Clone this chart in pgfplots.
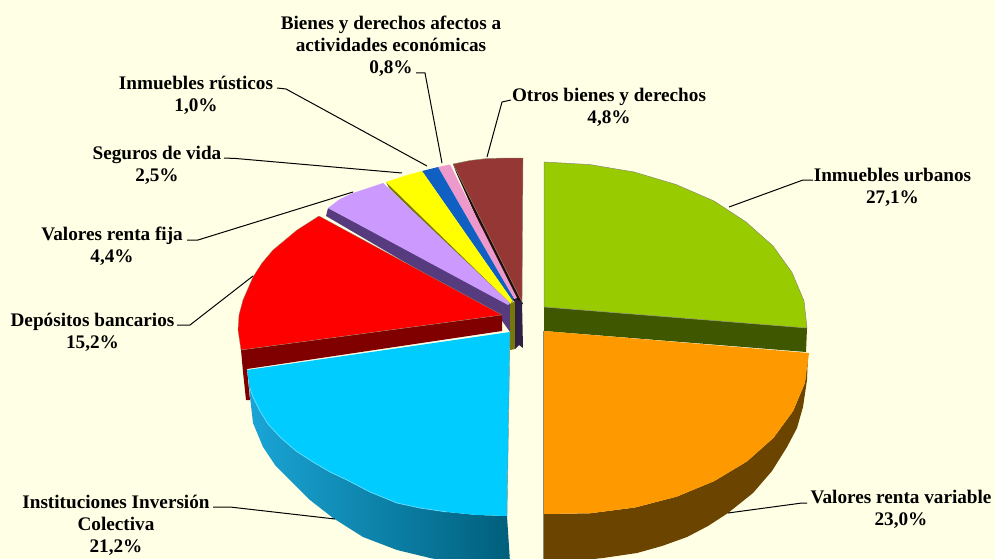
\documentclass[border=0pt]{standalone}
\usepackage{pgfplots}
\pgfplotsset{compat=1.18}
\usepackage{fontspec}
\setmainfont{Liberation Serif}
\definecolor{fondo}{HTML}{FFFFE6}
\definecolor{verde}{HTML}{99CC00}
\definecolor{verdeosc}{HTML}{3F5800}
\definecolor{naranja}{HTML}{FF9900}
\definecolor{naranjaosc}{HTML}{6B4500}
\definecolor{celeste}{HTML}{00CCFF}
\definecolor{celesteA}{HTML}{1AA5D6}
\definecolor{celesteB}{HTML}{005F7C}
\definecolor{rojo}{HTML}{FF0000}
\definecolor{rojoosc}{HTML}{800000}
\definecolor{lila}{HTML}{CC99FF}
\definecolor{lilaosc}{HTML}{563C7E}
\definecolor{amarillo}{HTML}{FFFF00}
\definecolor{oliva}{HTML}{77770A}
\definecolor{azul}{HTML}{1060C4}
\definecolor{rosa}{HTML}{EE99CC}
\definecolor{marron}{HTML}{953735}
\definecolor{borde}{HTML}{8A8A70}
\tikzset{etiq/.style={font=\fontsize{19.2}{22}\selectfont\bfseries,align=center,inner sep=0pt,text=black},
  guia/.style={black,line width=1pt,no markers}}
\begin{document}
\begin{tikzpicture}
\begin{axis}[
    scale only axis,
    width=995pt,
    height=559pt,
    xmin=0,xmax=995,
    ymin=0,ymax=559,
    y dir=reverse,
    hide axis,
    clip=true,
  ]
% fondo
\addplot[draw=none,fill=fondo] coordinates {(0,0) (995,0) (995,559) (0,559)} \closedcycle;

% cuñas pequeñas de arriba
\addplot[draw=none,fill=black!75!marron] coordinates {(453,164) (456,172) (515,304) (523,304) (519,296)} -- cycle;
\addplot[draw=borde,line width=0.4pt,fill=marron] coordinates {(453,164) (470,160.5) (487,158.5) (505,158) (523,158) (522,302) (519,296)} -- cycle;
\addplot[draw=none,fill=rosa] coordinates {(438,167) (450,164.5) (517,298) (514,299)} -- cycle;
\addplot[draw=none,fill=azul] coordinates {(422,171) (438,167) (514,299) (512,300)} -- cycle;
\addplot[draw=none,fill=oliva] coordinates {(386,182) (389,188) (509,306) (513,301)} -- cycle;
\addplot[draw=none,fill=amarillo] coordinates {(386,182) (404,176) (422,171) (512,300) (511,304)} -- cycle;
\addplot[draw=none,fill=lilaosc] coordinates {(328,208) (326,216) (500,318) (510,332) (510,304)} -- cycle;
\addplot[draw=none,fill=lila] coordinates {(328,208) (340,199) (353,193) (368,188) (383,183) (510,303) (508,305)} -- cycle;
% lados del centro
\addplot[draw=none,fill=oliva] coordinates {(510,304) (515,301) (515,349) (510,350)} -- cycle;
\addplot[draw=none,fill=black!45!lilaosc] coordinates {(515,299) (522,302) (523,348) (519,345) (515,349)} -- cycle;

% Depósitos bancarios
\addplot[draw=none,fill=rojoosc] coordinates {(241,350) (243,372) (246,400) (250,400) (247,369) (502,331) (502,315)} -- cycle;
\addplot[draw=borde,line width=0.3pt,fill=rojo] coordinates {(241,350) (238,330) (239,315) (243,300) (253,277) (262,263) (273,250) (285,240) (297,230) (319,216) (502,315)} -- cycle;

% Instituciones Inversión Colectiva
\addplot[draw=none,left color=celesteA,right color=celesteB] coordinates {(249,384) (250,397) (253,423) (263,447) (275,465) (290,480) (310,500) (333,518) (363,537) (397,550) (430,558) (445,561) (510,562) (507,516) (477,515) (447,512) (397,503) (347,480) (313,462) (280,437)} -- cycle;
\addplot[draw=none,fill=celeste] coordinates {(510,332) (247,370) (249,384) (253,397) (260,411) (268,424) (280,437) (296,451) (313,462) (330,472) (347,480) (370,492) (397,503) (420,508) (447,512) (477,515) (507,516)} -- cycle;
\addplot[no markers,color=celeste!60!white,line width=0.7pt] coordinates {(250,388) (253,397) (260,411) (268,424) (280,437) (296,451) (313,462) (330,472) (347,480) (370,492) (397,503) (420,508) (447,512)};
\addplot[no markers,color=borde,line width=0.4pt] coordinates {(510,332) (507,516)};

% Inmuebles urbanos
\addplot[draw=none,fill=verdeosc] coordinates {(544,307) (807,328) (806,352) (544,331)} -- cycle;
\addplot[draw=borde,line width=0.5pt,fill=verde] coordinates {(544,162) (590,164.6) (634,172) (676,184.5) (714,201) (746,222) (773,246) (792,272.5) (804,301) (807,328) (544,307)} -- cycle;

% Valores renta variable
\addplot[draw=none,fill=naranjaosc] coordinates {(808,353) (807,380) (803,407) (797,428) (787,447) (772,471) (753,493) (728,513) (708,526) (687,537) (662,546) (637,553) (603,558) (575,561) (544,562) (544,514) (590,513.3) (635,507.5) (676.5,496.7) (714,481.2) (747,461.4) (773.5,437.8) (793,411.2) (805,382.7)} -- cycle;
\addplot[draw=none,fill=naranja] coordinates {(544,331) (809,353) (805,382.7) (793,411.2) (773.5,437.8) (747,461.4) (714,481.2) (676.5,496.7) (635,507.5) (590,513.3) (544,514)} -- cycle;
\addplot[no markers,color=borde,line width=0.4pt] coordinates {(543.5,331) (543.5,559)};

% líneas guía
\addplot[guia] coordinates {(813,180) (803,180) (729,207)};
\addplot[guia] coordinates {(807,503) (802,503) (728,513)};
\addplot[guia] coordinates {(213,507) (230,507) (335,519)};
\addplot[guia] coordinates {(177,325) (190,325) (253,276)};
\addplot[guia] coordinates {(187,240) (198,240) (353,192)};
\addplot[guia] coordinates {(224,158) (236,158.5) (402,173)};
\addplot[guia] coordinates {(277,88) (286,89) (427,166)};
\addplot[guia] coordinates {(416,73) (425,73) (442,163)};
\addplot[guia] coordinates {(511,100) (502,102) (487,157)};

% etiquetas
\node[etiq] at (axis cs:391,46.5) {Bienes y derechos afectos a\\actividades económicas\\0,8\%};
\node[etiq] at (axis cs:196,95.5) {Inmuebles rústicos\\1,0\%};
\node[etiq] at (axis cs:157,165.5) {Seguros de vida\\2,5\%};
\node[etiq] at (axis cs:609,107) {Otros bienes y derechos\\4,8\%};
\node[etiq] at (axis cs:892.5,187.5) {Inmuebles urbanos\\27,1\%};
\node[etiq] at (axis cs:112,246.5) {Valores renta fija\\4,4\%};
\node[etiq] at (axis cs:92.5,332.5) {Depósitos bancarios\\15,2\%};
\node[etiq] at (axis cs:116,525) {Instituciones Inversión\\Colectiva\\21,2\%};
\node[etiq] at (axis cs:901,509) {Valores renta variable\\23,0\%};
\end{axis}
\end{tikzpicture}
\end{document}
